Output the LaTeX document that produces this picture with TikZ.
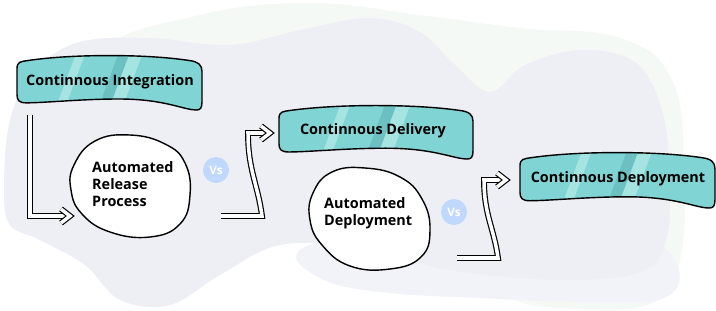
\documentclass[tikz,border=0pt]{standalone}
\usepackage{fontspec}
\setmainfont{Open Sans}
\usetikzlibrary{arrows.meta}
\definecolor{tealA}{HTML}{80D4D3}
\definecolor{tealL}{HTML}{A6E4E2}
\definecolor{tealD}{HTML}{6CC0C2}
\definecolor{bgLav}{HTML}{EDEFF5}
\definecolor{bgLav2}{HTML}{F2F2F9}
\definecolor{bgGreen}{HTML}{F5F9F5}
\definecolor{vsblue}{HTML}{BFD8FB}
\newcommand\bpath[4]{({#1},{#2+0.25*#4}) .. controls ({#1},{#2+0.12*#4}) and ({#1+0.02*#3},{#2+0.12*#4}) .. ({#1+0.06*#3},{#2+0.1*#4})
 .. controls ({#1+0.3*#3},{#2-0.02*#4}) and ({#1+0.7*#3},{#2-0.02*#4}) .. ({#1+0.93*#3},{#2+0.1*#4})
 .. controls ({#1+0.98*#3},{#2+0.12*#4}) and ({#1+#3},{#2+0.18*#4}) .. ({#1+#3},{#2+0.3*#4})
 -- ({#1+#3},{#2+0.85*#4})
 .. controls ({#1+#3},{#2+0.97*#4}) and ({#1+0.99*#3},{#2+#4}) .. ({#1+0.97*#3},{#2+#4})
 .. controls ({#1+0.9*#3},{#2+#4}) and ({#1+0.8*#3},{#2+0.8*#4}) .. ({#1+0.55*#3},{#2+0.8*#4})
 .. controls ({#1+0.35*#3},{#2+0.8*#4}) and ({#1+0.15*#3},{#2+0.87*#4}) .. ({#1+0.05*#3},{#2+0.87*#4})
 .. controls ({#1+0.01*#3},{#2+0.87*#4}) and ({#1},{#2+0.82*#4}) .. ({#1},{#2+0.72*#4}) -- cycle}
\newcommand\tealbox[4]{%
 \begin{scope}
 \clip \bpath{#1}{#2}{#3}{#4};
 \fill[tealA] ({#1-5},{#2-5}) rectangle ({#1+#3+5},{#2+#4+5});
 \fill[tealL] ({#1+0.32*#3},{#2-2}) -- ({#1+0.37*#3},{#2-2}) -- ({#1+0.37*#3-0.4*#4},{#2+#4+2}) -- ({#1+0.32*#3-0.4*#4},{#2+#4+2}) -- cycle;
 \fill[tealD] ({#1+0.55*#3},{#2-2}) -- ({#1+0.61*#3},{#2-2}) -- ({#1+0.61*#3-0.4*#4},{#2+#4+2}) -- ({#1+0.55*#3-0.4*#4},{#2+#4+2}) -- cycle;
 \fill[tealL] ({#1+0.61*#3},{#2-2}) -- ({#1+0.68*#3},{#2-2}) -- ({#1+0.68*#3-0.4*#4},{#2+#4+2}) -- ({#1+0.61*#3-0.4*#4},{#2+#4+2}) -- cycle;
 \end{scope}
 \draw[line width=1.2pt, line join=round] \bpath{#1}{#2}{#3}{#4};}
\tikzset{
 lbl/.style={font=\bfseries\fontsize{12.3}{14.5}\selectfont, text=black, inner sep=0pt},
 blobtxt/.style={lbl, align=left, anchor=west},
 vsnode/.style={circle, fill=vsblue, minimum size=0.78cm, inner sep=0pt, text=white, font=\bfseries\fontsize{10}{11}\selectfont},
 blob/.style={draw=black, fill=white, line width=1.2pt},
 dbl/.style={draw=black, line width=1pt, double=white, double distance=3pt, line join=miter},
 chev/.style={dbl, line join=miter, miter limit=10},
}
\begin{document}
\begin{tikzpicture}[x=0.03cm, y=-0.03cm]
\useasboundingbox (0,0) rectangle (716,311);
\fill[white] (0,0) rectangle (716,311);
% background blobs
\fill[bgGreen] plot[smooth cycle, tension=0.7] coordinates {(120,50) (200,15) (310,3) (420,15) (520,28) (620,38) (672,80) (684,170) (680,260) (655,302) (580,309) (500,290) (450,200) (300,100)};
\fill[bgLav2] plot[smooth cycle, tension=0.7] coordinates {(300,250) (380,232) (480,240) (560,250) (640,240) (676,262) (668,296) (600,302) (480,298) (380,292) (320,278)};
\fill[bgLav] plot[smooth cycle, tension=0.6] coordinates {(4,190) (10,120) (35,70) (80,42) (150,38) (230,45) (300,30) (370,18) (420,32) (455,65) (490,92) (525,65) (580,50) (635,62) (662,110) (670,180) (666,240) (640,272) (560,280) (450,270) (360,248) (280,245) (220,275) (170,305) (120,300) (85,265) (40,240) (10,225)};
% coordinates for connectors
\coordinate (a1s) at (30,115);
\coordinate (a1c) at (30,216);
\coordinate (a1e) at (70,216);
\coordinate (a2s) at (221,216);
\coordinate (a2c) at (262,216);
\coordinate (a2t) at (248,133);
\coordinate (a2e) at (270,133);
\coordinate (a3s) at (457,258);
\coordinate (a3c) at (498,258);
\coordinate (a3t) at (484,180);
\coordinate (a3e) at (506,180);
% connectors
\draw[dbl] (a1s) -- (a1c) -- ([xshift=-0.09cm]a1e);
\draw[chev] ([shift={(-9,-7)}]a1e) -- (a1e) -- ([shift={(-9,7)}]a1e);
\draw[dbl] (a2s) -- (a2c) .. controls (258,185) and (248,170) .. (a2t) -- ([xshift=-0.09cm]a2e);
\draw[chev] ([shift={(-9,-7)}]a2e) -- (a2e) -- ([shift={(-9,7)}]a2e);
\draw[dbl] (a3s) -- (a3c) .. controls (494,228) and (484,215) .. (a3t) -- ([xshift=-0.09cm]a3e);
\draw[chev] ([shift={(-9,-7)}]a3e) -- (a3e) -- ([shift={(-9,7)}]a3e);
% blobs
\draw[blob] plot[smooth cycle, tension=0.75] coordinates {(74,165) (95,141) (130,135) (165,144) (185,163) (190,195) (180,224) (150,237) (110,232) (82,214) (71,190)};
\draw[blob] plot[smooth cycle, tension=0.75] coordinates {(313,193) (332,172) (365,168) (400,177) (422,199) (430,230) (421,257) (390,269) (350,266) (322,245) (310,220)};
% teal boxes
\tealbox{17}{55}{185}{55}
\tealbox{279}{105}{194}{54}
\tealbox{520}{152}{195}{56}
% texts
\node[lbl] (ci) at (110,82) {Continnous Integration};
\node[lbl] (cdel) at (373,131) {Continnous Delivery};
\node[lbl] (cdep) at (618,179) {Continnous Deployment};
\node[blobtxt] (rel) at (92,184) {Automated\\Release\\Process};
\node[blobtxt] (adep) at (324,213) {Automated\\Deployment};
\node[vsnode] (vs1) at (216,170) {Vs};
\node[vsnode] (vs2) at (454,212) {Vs};
\end{tikzpicture}
\end{document}
